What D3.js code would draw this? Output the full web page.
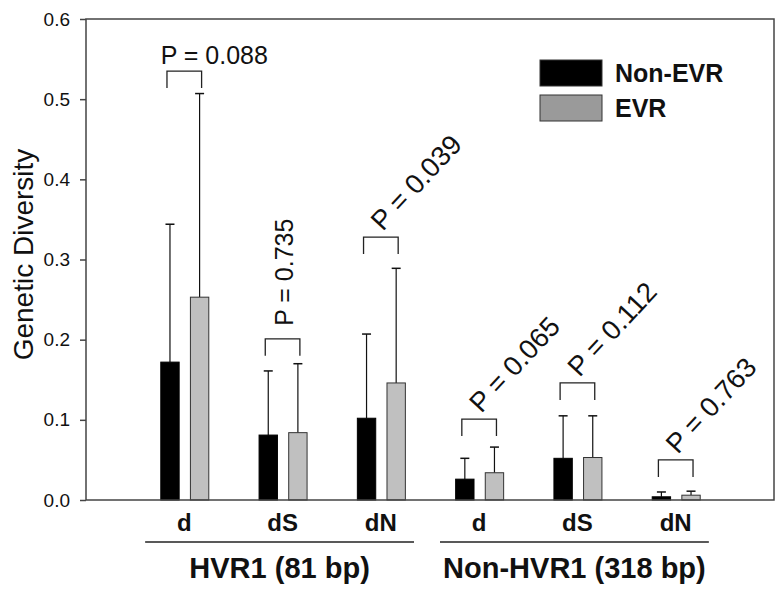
<!DOCTYPE html>
<html>
<head>
<meta charset="utf-8">
<script src="https://cdn.jsdelivr.net/npm/d3@7"></script>
<style>
  body { margin: 0; background: #fff; }
  svg text { font-family: "Liberation Sans", Arial, sans-serif; }
</style>
</head>
<body>
<div id="chart"></div>
<script>
// values
var categories = ["d", "dS", "dN", "d", "dS", "dN"];
var groups = ["HVR1 (81 bp)", "Non-HVR1 (318 bp)"];
var series = ["Non-EVR", "EVR"];
var nonEVR = [0.172, 0.081, 0.102, 0.026, 0.052, 0.004];
var evr = [0.253, 0.084, 0.146, 0.034, 0.053, 0.006];
var nonEVRsd = [0.172, 0.080, 0.105, 0.026, 0.053, 0.006];
var evrSd = [0.254, 0.086, 0.143, 0.032, 0.052, 0.005];
var pValues = ["0.088", "0.735", "0.039", "0.065", "0.112", "0.763"];
var bracketLevel = [0.535, 0.201, 0.328, 0.101, 0.146, 0.050];
var labelAngle = [0, -90, -45, -45, -45, -45];
var yTicks = [0, 0.1, 0.2, 0.3, 0.4, 0.5, 0.6];

var width = 782, height = 589;
var plotLeft = 86, plotRight = 774, plotTop = 19, plotBottom = 500;

var svg = d3.select("#chart").append("svg")
  .attr("width", width)
  .attr("height", height);

var x = d3.scaleBand()
  .domain(d3.range(categories.length))
  .range([plotLeft, plotRight])
  .paddingInner(0)
  .paddingOuter(0.5);

var x1 = d3.scaleBand()
  .domain(series)
  .range([-23.5, 24.5])
  .paddingInner(0.38);

var y = d3.scaleLinear().domain([0, 0.6]).range([plotBottom, plotTop]);

var colors = { "Non-EVR": "#000000", "EVR": "#c0c0c0" };

var rows = categories.map(function(c, i) {
  return {
    i: i,
    cx: x(i) + x.bandwidth() / 2,
    vals: [
      { s: "Non-EVR", v: nonEVR[i], sd: nonEVRsd[i] },
      { s: "EVR", v: evr[i], sd: evrSd[i] }
    ]
  };
});

// bars
var cat = svg.selectAll(".cat").data(rows).enter().append("g")
  .attr("class", "cat")
  .attr("transform", function(d) { return "translate(" + d.cx + ",0)"; });

// error bars (upper only)
cat.selectAll(".err").data(function(d) { return d.vals; }).enter().append("g")
  .each(function(d) {
    var g = d3.select(this);
    var ex = x1(d.s) + x1.bandwidth() / 2;
    g.append("line")
      .attr("x1", ex).attr("x2", ex)
      .attr("y1", y(d.v)).attr("y2", y(d.v + d.sd))
      .attr("stroke", "#111").attr("stroke-width", 1.2);
    g.append("line")
      .attr("x1", ex - 4.5).attr("x2", ex + 4.5)
      .attr("y1", y(d.v + d.sd)).attr("y2", y(d.v + d.sd))
      .attr("stroke", "#111").attr("stroke-width", 1.5);
  });

cat.selectAll("rect").data(function(d) { return d.vals; }).enter().append("rect")
  .attr("x", function(d) { return x1(d.s); })
  .attr("width", x1.bandwidth())
  .attr("y", function(d) { return y(d.v); })
  .attr("height", function(d) { return y(0) - y(d.v); })
  .attr("fill", function(d) { return colors[d.s]; })
  .attr("stroke", function(d) { return d.s == "EVR" ? "#333" : "#000"; })
  .attr("stroke-width", 1);

// brackets and p labels
cat.each(function(d) {
  var g = d3.select(this);
  var i = d.i;
  var xa = x1("Non-EVR") + x1.bandwidth() / 2 - 3;
  var xb = x1("EVR") + x1.bandwidth() / 2 + 2;
  var by = y(bracketLevel[i]);
  g.append("path")
    .attr("d", "M" + xa + "," + (by + 17) + "V" + by + "H" + xb + "V" + (by + 17))
    .attr("fill", "none").attr("stroke", "#222").attr("stroke-width", 1.3);
  var t = g.append("text").text("P = " + pValues[i])
    .attr("font-size", 25).attr("fill", "#111");
  var mid = (xa + xb) / 2;
  if (labelAngle[i] == 0) {
    t.attr("x", mid + 30).attr("y", by - 7).attr("text-anchor", "middle");
  } else if (labelAngle[i] == -90) {
    t.attr("transform", "translate(" + (mid + 10) + "," + (by - 13) + ") rotate(-90)");
  } else {
    t.attr("font-size", 27.5)
      .attr("transform", "translate(" + (mid + 2) + "," + (by - 5) + ") rotate(-47)");
  }
});

// axes / frame
svg.append("rect")
  .attr("x", plotLeft).attr("y", plotTop)
  .attr("width", plotRight - plotLeft).attr("height", plotBottom - plotTop)
  .attr("fill", "none").attr("stroke", "#444").attr("stroke-width", 1.5);

var yAxis = svg.append("g")
  .attr("transform", "translate(" + plotLeft + ",0)")
  .call(d3.axisLeft(y).tickValues(yTicks).tickFormat(d3.format(".1f")).tickSize(6).tickPadding(10));
yAxis.select(".domain").remove();
yAxis.selectAll(".tick line").attr("stroke", "#444").attr("stroke-width", 1.5);
yAxis.selectAll(".tick text").attr("font-size", 19).attr("fill", "#111")
  .style("font-family", "Liberation Sans, Arial, sans-serif");

svg.append("text")
  .attr("transform", "translate(33," + ((plotTop + plotBottom) / 2 - 5) + ") rotate(-90)")
  .attr("text-anchor", "middle")
  .attr("font-size", 28).attr("fill", "#111")
  .text("Genetic Diversity");

// category labels
svg.selectAll(".xlab").data(rows).enter().append("text")
  .attr("x", function(d) { return d.cx; })
  .attr("y", 531)
  .attr("text-anchor", "middle")
  .attr("font-size", 24).attr("font-weight", "bold").attr("fill", "#111")
  .text(function(d) { return categories[d.i]; });

// group labels with lines
groups.forEach(function(gname, gi) {
  var c0 = x(gi * 3), c2 = x(gi * 3 + 2) + x.bandwidth();
  var x0 = c0 + 10, x2 = c2 - 16;
  svg.append("line")
    .attr("x1", x0).attr("x2", x2).attr("y1", 542).attr("y2", 542)
    .attr("stroke", "#222").attr("stroke-width", 1.3);
  svg.append("text")
    .attr("x", (x0 + x2) / 2)
    .attr("y", 578)
    .attr("text-anchor", "middle")
    .attr("font-size", 29).attr("font-weight", "bold").attr("fill", "#111")
    .text(gname);
});

// legend
var legend = svg.append("g").attr("transform", "translate(540,60)");
var legendFill = { "Non-EVR": "#000000", "EVR": "#9a9a9a" };
series.forEach(function(s, i) {
  legend.append("rect")
    .attr("x", 0).attr("y", i * 35)
    .attr("width", 62).attr("height", 26)
    .attr("fill", legendFill[s])
    .attr("stroke", "#333").attr("stroke-width", 1);
  legend.append("text")
    .attr("x", 75).attr("y", i * 35 + 22)
    .attr("font-size", 25).attr("font-weight", "bold").attr("fill", "#111")
    .text(s);
});
</script>
</body>
</html>
